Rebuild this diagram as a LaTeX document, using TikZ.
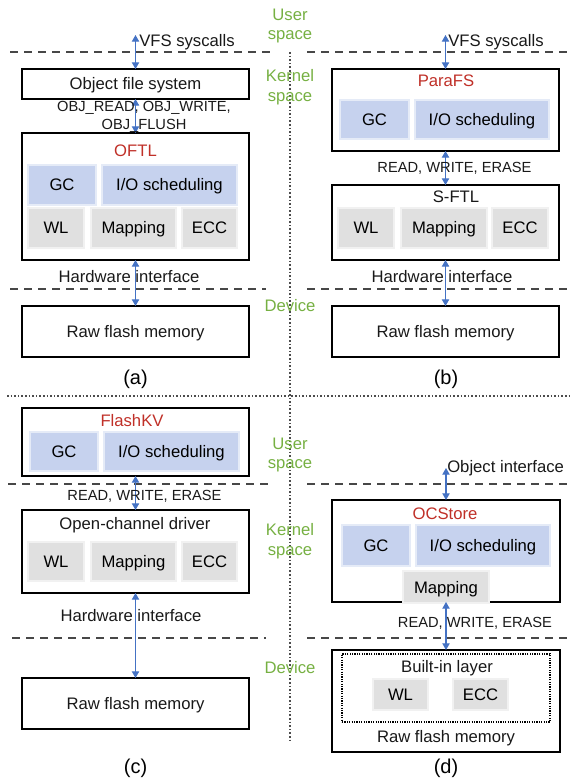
\documentclass[tikz,border=0pt]{standalone}
\usepackage{fontspec}
\setmainfont{Liberation Sans}
\usetikzlibrary{arrows.meta}

\definecolor{zonegreen}{RGB}{118,176,66}
\definecolor{titlered}{RGB}{192,48,40}
\definecolor{linkblue}{RGB}{68,114,196}
\definecolor{bluefill}{RGB}{198,210,238}
\definecolor{grayfill}{RGB}{224,224,224}

\tikzset{
  px/.style 2 args={minimum width=#1*0.75pt, minimum height=#2*0.75pt},
  capcentre/.style={text height=9pt, text depth=0pt},
  frame/.style={draw=black, line width=1.1pt, fill=white, inner sep=0pt, outer sep=0pt},
  innerframe/.style={draw=black, line width=0.9pt, dash pattern=on 0.9pt off 0.9pt, inner sep=0pt, outer sep=0pt},
  bluebox/.style={fill=bluefill, draw=white!55!bluefill, line width=0.8pt, inner sep=0pt, outer sep=0pt, capcentre, font=\fontsize{12.5}{15}\selectfont},
  graybox/.style={fill=grayfill, draw=white!55!grayfill, line width=0.8pt, inner sep=0pt, outer sep=0pt, capcentre, font=\fontsize{12.5}{15}\selectfont},
  txt/.style={inner sep=0pt, font=\fontsize{12.5}{15}\selectfont, text=black!90},
  boxtxt/.style={txt, capcentre},
  title/.style={txt, text=titlered},
  oplabel/.style={inner sep=0pt, font=\fontsize{11}{13}\selectfont, text=black!90},
  zone/.style={inner sep=0pt, font=\fontsize{12.5}{15}\selectfont, text=zonegreen},
  caption/.style={inner sep=0pt, font=\fontsize{15}{18}\selectfont},
  boundary/.style={draw=black!72, line width=0.9pt, dash pattern=on 6pt off 4.5pt},
  divider/.style={draw=black!70, line width=0.8pt, dash pattern=on 1.2pt off 1.5pt},
  link/.style={draw=linkblue, line width=0.8pt, {Triangle[width=5.5pt,length=5pt]}-{Triangle[width=5.5pt,length=5pt]}}
}

\begin{document}
\begin{tikzpicture}[x=0.75pt, y=-0.75pt]
\useasboundingbox (0,0) rectangle (573,780);

% ---- layer boundaries and panel dividers ----
\draw[boundary] (10,52) -- (272,52);
\draw[boundary] (307,52) -- (573,52);
\draw[boundary] (10,289) -- (266,289);
\draw[boundary] (307,289) -- (573,289);
\draw[boundary] (8,484) -- (272,484);
\draw[boundary] (307,484) -- (573,484);
\draw[boundary] (12,638) -- (266,638);
\draw[boundary] (307,638) -- (573,638);
\draw[divider] (290,52) -- (290,740);
\draw[divider] (7,396) -- (570,396);

% ---- zone labels ----
\node[zone, anchor=base] (us1) at (290,21) {User};
\node[zone, anchor=base] (us1b) at (290,40) {space};
\node[zone, anchor=base] (ks1) at (290,82) {Kernel};
\node[zone, anchor=base] (ks1b) at (290,102) {space};
\node[zone, anchor=base] (dv1) at (290,311) {Device};
\node[zone, anchor=base] (us2) at (290,449) {User};
\node[zone, anchor=base] (us2b) at (290,468) {space};
\node[zone, anchor=base] (ks2) at (290,535) {Kernel};
\node[zone, anchor=base] (ks2b) at (290,555) {space};
\node[zone, anchor=base] (dv2) at (290,673) {Device};

% ================= (a) =================
\node[frame, boxtxt, px={227}{30}] (ofs) at (135.5,84) {Object file system};
\node[frame, px={227}{127}] (oftl) at (135.5,196.5) {};
\node[title, anchor=base] (oftlT) at (135.5,157) {OFTL};
\node[bluebox, px={68}{40}] (gcA) at (62,185) {GC};
\node[bluebox, px={135}{40}] (ioA) at (169.5,185) {I/O scheduling};
\node[graybox, px={56}{40}] (wlA) at (56,228) {WL};
\node[graybox, px={85}{40}] (mapA) at (133.5,228) {Mapping};
\node[graybox, px={55}{40}] (eccA) at (209.5,228) {ECC};
\node[frame, boxtxt, px={227}{51}] (rawA) at (135.5,331.5) {Raw flash memory};

\coordinate (vfsA) at (135.5,35);
\draw[link] (vfsA) -- (ofs.north);
\draw[link] (ofs.south) -- (oftl.north);
\draw[link] (oftl.south) -- (rawA.north);
\node[txt, anchor=base west] (vfsAL) at (139,47) {VFS syscalls};
\node[oplabel, anchor=base] (objA1) at (144,112) {OBJ\_READ, OBJ\_WRITE,};
\node[oplabel, anchor=base] (objA2) at (144,130) {OBJ\_FLUSH};
\node[txt, anchor=base] (hwA) at (129,282) {Hardware interface};
\node[caption, anchor=base] (capA) at (135.5,384) {(a)};

% ================= (b) =================
\node[frame, px={227}{82}] (parafs) at (445.5,110) {};
\node[title, anchor=base] (parafsT) at (446,87) {ParaFS};
\node[bluebox, px={69}{39}] (gcB) at (374.5,119.5) {GC};
\node[bluebox, px={134}{39}] (ioB) at (482,119.5) {I/O scheduling};
\node[frame, px={227}{75}] (sftl) at (445.5,222.5) {};
\node[txt, anchor=base] (sftlT) at (456,203) {S-FTL};
\node[graybox, px={56}{40}] (wlB) at (366,228) {WL};
\node[graybox, px={86}{40}] (mapB) at (444,228) {Mapping};
\node[graybox, px={56}{40}] (eccB) at (520,228) {ECC};
\node[frame, boxtxt, px={227}{51}] (rawB) at (445.5,331.5) {Raw flash memory};

\coordinate (vfsB) at (445.5,35);
\draw[link] (vfsB) -- (parafs.north);
\draw[link] (parafs.south) -- (sftl.north);
\draw[link] (sftl.south) -- (rawB.north);
\node[txt, anchor=base west] (vfsBL) at (448,47) {VFS syscalls};
\node[oplabel, anchor=base] (opB) at (454.5,173) {READ, WRITE, ERASE};
\node[txt, anchor=base] (hwB) at (442,282) {Hardware interface};
\node[caption, anchor=base] (capB) at (446,384) {(b)};

% ================= (c) =================
\node[frame, px={227}{68}] (flashkv) at (135.5,442) {};
\node[title, anchor=base] (flashkvT) at (132,426) {FlashKV};
\node[bluebox, px={68}{39}] (gcC) at (64,451.5) {GC};
\node[bluebox, px={135}{39}] (ioC) at (171.5,451.5) {I/O scheduling};
\node[frame, px={227}{83}] (ocd) at (135.5,551.5) {};
\node[txt, anchor=base] (ocdT) at (135,529) {Open-channel driver};
\node[graybox, px={56}{39}] (wlC) at (56,561.5) {WL};
\node[graybox, px={85}{39}] (mapC) at (133.5,561.5) {Mapping};
\node[graybox, px={55}{39}] (eccC) at (209.5,561.5) {ECC};
\node[frame, boxtxt, px={227}{51}] (rawC) at (135.5,703.5) {Raw flash memory};

\draw[link] (flashkv.south) -- (ocd.north);
\draw[link] (ocd.south) -- (rawC.north);
\node[oplabel, anchor=base] (opC) at (144.5,500) {READ, WRITE, ERASE};
\node[txt, anchor=base] (hwC) at (131,621) {Hardware interface};
\node[caption, anchor=base] (capC) at (135.5,773) {(c)};

% ================= (d) =================
\node[frame, px={228}{102}] (ocstore) at (446,551) {};
\node[title, anchor=base] (ocstoreT) at (445,519) {OCStore};
\node[bluebox, px={68}{41}] (gcD) at (376,545.5) {GC};
\node[bluebox, px={134}{41}] (ioD) at (483,545.5) {I/O scheduling};
\node[graybox, px={86}{32}] (mapD) at (446,587) {Mapping};
\node[frame, px={228}{102}] (rawD) at (446,701) {};
\node[innerframe, px={208}{68}] (builtin) at (446,688) {};
\node[txt, anchor=base] (builtinT) at (447,672) {Built-in layer};
\node[graybox, px={55}{31}] (wlD) at (400.5,694.5) {WL};
\node[graybox, px={55}{31}] (eccD) at (480.5,694.5) {ECC};
\node[txt, anchor=base] (rawDT) at (446,742) {Raw flash memory};

\coordinate (objD) at (446,468);
\draw[link] (objD) -- (ocstore.north);
\draw[link] (ocstore.south) -- (rawD.north);
\node[txt, anchor=base west] (objDL) at (447,472) {Object interface};
\node[oplabel, anchor=base] (opD) at (475,627) {READ, WRITE, ERASE};
\node[caption, anchor=base] (capD) at (446,773) {(d)};
\end{tikzpicture}
\end{document}
